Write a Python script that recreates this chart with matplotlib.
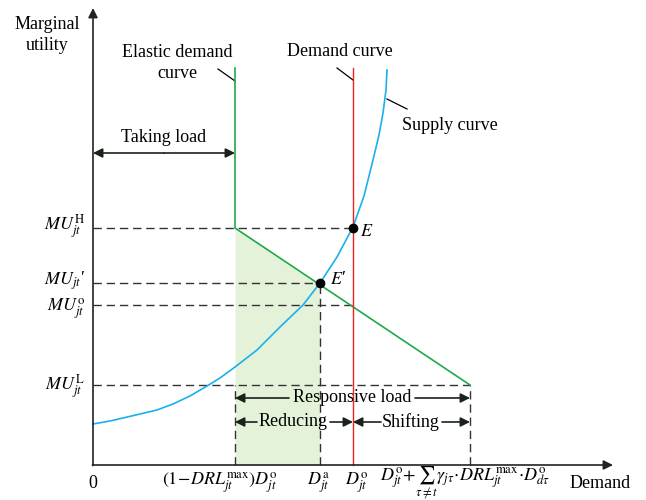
import numpy as np
import matplotlib
matplotlib.use('Agg')
import matplotlib.pyplot as plt

plt.rcParams['font.family'] = ['Liberation Serif', 'DejaVu Serif']
plt.rcParams['mathtext.fontset'] = 'stix'

# 坐标单位: 以原点为零点的图上读数
supply_x = [0, 17, 30, 47, 64, 80, 97, 114, 127, 142, 164, 187, 210, 227,
            244, 260, 271, 280, 286, 290, 293, 294]
supply_y = [41, 44, 47, 51, 55, 61, 69, 79, 87, 98, 115, 138, 160, 182,
            208, 238, 269, 305, 330, 352, 375, 395]

elastic_x = [142, 142, 377]
elastic_y = [397, 237, 80]

demand_x = 260
curve_top = 397

mu_levels = {'H': 237, "'": 182, 'o': 160, 'L': 80}
mu_ends = {'H': 260, "'": 227, 'o': 260, 'L': 377}
mu_labels = {'H': r'$MU_{jt}^{\mathrm{H}}$', "'": r'$MU_{jt}$' + '\u2032',
             'o': r'$MU_{jt}^{\mathrm{o}}$', 'L': r'$MU_{jt}^{\mathrm{L}}$'}
mu_label_shift = {'H': 1, "'": 2, 'o': -4, 'L': -2}

d_low, d_a, d_o, d_high = 142, 227, 260, 377
x_labels = [r'$(1\!-\!DRL_{jt}^{\mathrm{max}})D_{jt}^{\mathrm{o}}$',
            r'$D_{jt}^{\mathrm{a}}$', r'$D_{jt}^{\mathrm{o}}$',
            r'$D_{jt}^{\mathrm{o}}\!+\!\sum_{\tau\neq t}\gamma_{j\tau}\!\cdot\!DRL_{jt}^{\mathrm{max}}\!\cdot\!D_{d\tau}^{\mathrm{o}}$']
x_label_pos = [127, 225, 264, 372]

E = (260, 237)
E_prime = (227, 182)

GREEN = '#1daa4a'
RED = '#ee2222'
BLUE = '#1ab0ee'
SHADE = '#e4f2da'
DASH = '#333333'

fig = plt.figure(figsize=(6.46, 5.0), dpi=100)
ax = fig.add_axes([0, 0, 1, 1])
ax.set_xlim(-93, 553)
ax.set_ylim(-35, 465)
ax.axis('off')

# 阴影区域
sx = np.array([d_low, d_a])
sy = np.interp(sx, elastic_x[1:], elastic_y[1:])
ax.fill_between(sx, 0, sy, color=SHADE, lw=0, zorder=0)

# 虚线
dash_kw = dict(color=DASH, lw=1.0, dashes=(6, 3.5), zorder=1)
for k, yv in mu_levels.items():
    ax.plot([0, mu_ends[k]], [yv, yv], **dash_kw)
    ax.text(-8, yv + mu_label_shift[k], mu_labels[k], ha='right', va='center',
            fontsize=13)
ax.plot([d_low, d_low], [0, mu_levels['L']], **dash_kw)
ax.plot([d_a, d_a], [0, E_prime[1]], **dash_kw)
ax.plot([d_high, d_high], [0, mu_levels['L']], **dash_kw)

# 曲线
ax.plot(supply_x, supply_y, color=BLUE, lw=1.2, zorder=3)
ax.plot(elastic_x, elastic_y, color=GREEN, lw=1.2, zorder=3)
ax.plot([demand_x, demand_x], [0, curve_top], color=RED, lw=1.0, zorder=3)

ax.plot(*E, 'o', color='black', ms=6, zorder=5)
ax.plot(*E_prime, 'o', color='black', ms=6, zorder=5)
ax.text(E[0] + 7, E[1] - 4, '$E$', fontsize=13, va='center')
ax.text(E_prime[0] + 10, E_prime[1] + 4, '$E$\u2032', fontsize=13, va='center')

# 坐标轴
ax_kw = dict(arrowstyle='-|>', color='#222222', lw=1.2, mutation_scale=14,
             shrinkA=0, shrinkB=0)
ax.annotate('', xy=(0, 457), xytext=(0, -0.6), arrowprops=ax_kw)
ax.annotate('', xy=(520, 0), xytext=(-0.6, 0), arrowprops=ax_kw)

ax.text(-46, 430, 'Marginal\nutility', ha='center', va='center', fontsize=13,
        linespacing=1.3)
ax.text(507, -18, 'Demand', ha='center', va='center', fontsize=13)
ax.text(0, -18, '0', ha='center', va='center', fontsize=13)
for lab, xp in zip(x_labels, x_label_pos):
    ax.text(xp, -18, lab, ha='center', va='center', fontsize=13)

# 曲线标注
ax.text(84, 402, 'Elastic demand\ncurve', ha='center', va='center', fontsize=13,
        linespacing=1.35)
ax.plot([125, 142], [396, 384], color='black', lw=0.9)
ax.text(247, 413, 'Demand curve', ha='center', va='center', fontsize=13)
ax.plot([244, 260], [397, 385], color='black', lw=0.9)
ax.text(357, 340, 'Supply curve', ha='center', va='center', fontsize=13)
ax.plot([294, 314], [366, 356], color='black', lw=0.9)

# 双向箭头
arr = dict(arrowstyle='-|>', color='#1a221a', lw=1.2, mutation_scale=14,
           shrinkA=0, shrinkB=0)
ax.annotate('', xy=(0, 312), xytext=(71, 312), arrowprops=arr)
ax.annotate('', xy=(d_low, 312), xytext=(71, 312), arrowprops=arr)
ax.text(71, 327, 'Taking load', ha='center', va='center', fontsize=13)

ax.text(259, 67, 'Responsive load', ha='center', va='center', fontsize=13)
ax.annotate('', xy=(d_low, 67), xytext=(196, 67), arrowprops=arr)
ax.annotate('', xy=(d_high, 67), xytext=(322, 67), arrowprops=arr)

ax.text(200, 43, 'Reducing', ha='center', va='center', fontsize=13)
ax.annotate('', xy=(d_low, 43), xytext=(164, 43), arrowprops=arr)
ax.annotate('', xy=(d_o, 43), xytext=(237, 43), arrowprops=arr)

ax.text(318, 43, 'Shifting', ha='center', va='center', fontsize=13)
ax.annotate('', xy=(d_o, 43), xytext=(288, 43), arrowprops=arr)
ax.annotate('', xy=(d_high, 43), xytext=(349, 43), arrowprops=arr)

fig.savefig('out.png', dpi=100)
